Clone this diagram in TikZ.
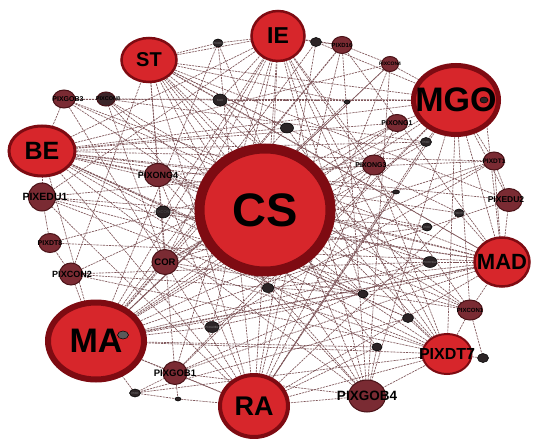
\documentclass[tikz,border=0pt]{standalone}
\usepackage{fontspec}
\setmainfont{Liberation Sans}
\usetikzlibrary{shapes.geometric}
\pgfdeclarelayer{bg}
\pgfsetlayers{bg,main}
\definecolor{nred}{HTML}{D7262B}
\definecolor{nbord}{HTML}{7E0B12}
\definecolor{nmid}{HTML}{7A2B33}
\definecolor{nmidb}{HTML}{4A1217}
\definecolor{ndark}{HTML}{2C2426}
\definecolor{edgec}{HTML}{7E5559}
\newcommand\zt[1]{\makebox[0pt]{#1}}
\newcommand\fs[1]{\fontsize{#1}{#1}\selectfont}
\begin{document}
\begin{tikzpicture}[x=1pt,y=-1pt,
  big/.style={ellipse, fill=nred, draw=nbord, inner sep=0pt, font=\bfseries},
  mid/.style={ellipse, fill=nmid, draw=nmidb, line width=1pt, inner sep=0pt, font=\bfseries\fontsize{7}{7}\selectfont},
  sml/.style={ellipse, fill=ndark, draw=black, line width=0.5pt, inner sep=0pt, font=\fontsize{3}{3}\selectfont\color{gray}},
  lnk/.style={draw=edgec, line width=0.65pt, dash pattern=on 2.2pt off 0.9pt}]
\useasboundingbox (0,0) rectangle (534,438);

% big nodes
\node[big, line width=10pt, minimum width=131pt, minimum height=123pt] (cs) at (265,210) {\zt{\fs{47}CS}};
\node[big, line width=5pt, minimum width=85pt, minimum height=69pt] (mgo) at (456,100) {\zt{\fs{34}MGO}};
\node[big, line width=6pt, minimum width=96pt, minimum height=77pt] (ma) at (96,341) {\zt{\fs{34}MA}};
\node[big, line width=2.5pt, minimum width=55pt, minimum height=44pt] (st) at (149,60) {\zt{\fs{20}ST}};
\node[big, line width=2.5pt, minimum width=53pt, minimum height=50pt] (ie) at (278,36) {\zt{\fs{23}IE}};
\node[big, line width=3pt, minimum width=66pt, minimum height=50pt] (be) at (42,151) {\zt{\fs{25}BE}};
\node[big, line width=2.5pt, minimum width=55pt, minimum height=49pt] (mad) at (502,262) {\zt{\fs{22}MAD}};
\node[big, line width=4pt, minimum width=68pt, minimum height=62pt] (ra) at (254,406) {\zt{\fs{27}RA}};
\node[big, line width=2pt, minimum width=49pt, minimum height=40pt] (dt7) at (447,354) {\zt{\fs{16}PIXDT7}};

% medium nodes
\node[mid, minimum width=27pt, minimum height=28pt] (edu1) at (42,197) {\zt{\fs{10.5}\hspace{6pt}PIXEDU1}};
\node[mid, minimum width=27pt, minimum height=23pt] (ong4) at (158,175) {\zt{\fs{9}PIXONG4}};
\node[mid, minimum width=22pt, minimum height=19pt] (d8) at (50,243) {\zt{\fs{7}PIXDT8}};
\node[mid, minimum width=23pt, minimum height=22pt] (con2) at (71,274) {\zt{\fs{9}\hspace{2pt}PIXCON2}};
\node[mid, minimum width=26pt, minimum height=25pt] (cor) at (165,262) {\zt{\fs{9.5}COR}};
\node[mid, minimum width=23pt, minimum height=20pt] (ong3) at (374,165) {\zt{\fs{7}\hspace{-6pt}PIXONG3}};
\node[mid, minimum width=21pt, minimum height=17pt] (ong1) at (397,123) {\zt{\fs{7}PIXONG1}};
\node[mid, minimum width=20pt, minimum height=17pt] (d16) at (342,45) {\zt{\fs{6}PIXD16}};
\node[mid, minimum width=17pt, minimum height=15pt] (con4) at (390,64) {\zt{\fs{5}PIXCON4}};
\node[mid, minimum width=21pt, minimum height=18pt] (dt1) at (494,161) {\zt{\fs{6.5}PIXDT1}};
\node[mid, minimum width=26pt, minimum height=23pt] (edu2) at (509,200) {\zt{\fs{8.5}\hspace{-6pt}PIXEDU2}};
\node[mid, minimum width=25pt, minimum height=20pt] (con1) at (470,310) {\zt{\fs{6}PIXCON1}};
\node[mid, minimum width=37pt, minimum height=32pt] (gob4) at (367,396) {\zt{\fs{13.5}PIXGOB4}};
\node[mid, minimum width=24pt, minimum height=23pt] (gob1) at (175,373) {\zt{\fs{9.5}PIXGOB1}};
\node[mid, minimum width=22pt, minimum height=18pt] (gob3) at (64,99) {\zt{\fs{7}\hspace{8pt}PIXGOB3}};
\node[mid, fill=ndark!80!nmid, minimum width=18pt, minimum height=14pt] (con8) at (106,99) {\zt{\fs{5.5}\hspace{4pt}PIXCON8}};

% small nodes
\node[sml, minimum width=10pt, minimum height=8pt] (s1) at (218,43) {\zt{PIXON}};
\node[sml, minimum width=14pt, minimum height=12pt] (s2) at (220,100) {\zt{KAX}};
\node[sml, minimum width=11pt, minimum height=9pt] (s3) at (316,42) {};
\node[sml, minimum width=6pt, minimum height=4pt] (s4) at (347,102) {};
\node[sml, minimum width=13pt, minimum height=10pt] (s5) at (287,128) {};
\node[sml, minimum width=11pt, minimum height=9pt] (s6) at (426,142) {\zt{PIXD}};
\node[sml, minimum width=14pt, minimum height=12pt] (s7) at (163,212) {\zt{\fs{4}\color{black!70}PIXCON5}};
\node[sml, minimum width=7pt, minimum height=4pt] (s8) at (396,192) {};
\node[sml, minimum width=10pt, minimum height=8pt] (s9) at (459,213) {\zt{PIXDT9}};
\node[sml, minimum width=10pt, minimum height=8pt] (s10) at (427,227) {\zt{PIXD}};
\node[sml, minimum width=14pt, minimum height=11pt] (s11) at (430,262) {\zt{PIXONG2}};
\node[sml, minimum width=10pt, minimum height=8pt] (s12) at (363,294) {};
\node[sml, minimum width=11pt, minimum height=9pt] (s13) at (408,318) {};
\node[sml, minimum width=10pt, minimum height=8pt] (s14) at (377,347) {};
\node[sml, minimum width=11pt, minimum height=9pt] (s15) at (483,358) {};
\node[sml, minimum width=12pt, minimum height=9pt] (s16) at (268,288) {};
\node[sml, minimum width=14pt, minimum height=11pt] (s17) at (212,327) {\zt{PIXGOB2}};
\node[sml, fill=gray!70!black, minimum width=11pt, minimum height=8pt] (s18) at (123,335) {};
\node[sml, minimum width=11pt, minimum height=8pt] (s19) at (135,393) {\zt{PIXD}};
\node[sml, minimum width=6pt, minimum height=4pt] (s20) at (178,399) {};
\node[sml, minimum width=8pt, minimum height=6pt] (s21) at (484,100) {};

\begin{pgfonlayer}{bg}
\fill[white] (0,0) rectangle (534,438);
\foreach \a/\b in {st/ie, st/mgo, st/ra, st/mad, st/cor, st/con2, st/dt7, st/s5, st/s12, st/gob4, st/edu2, st/s2,
  ie/be, ie/ma, ie/ra, ie/cor, ie/s2, ie/s3, ie/d16, ie/ong3, ie/con1, ie/gob1, ie/s17, ie/s12, ie/edu1, ie/dt7,
  mgo/be, mgo/ma, mgo/ra, mgo/mad, mgo/dt7, mgo/ong1, mgo/s6, mgo/con1, mgo/edu2, mgo/dt1, mgo/gob1, mgo/s16, mgo/s2, mgo/cor, mgo/con8,
  be/ma, be/ra, be/mad, be/dt7, be/ong4, be/edu1, be/s5, be/ong1, be/s10, be/gob4, be/con4,
  mad/ma, mad/ra, mad/edu2, mad/dt1, mad/con1, mad/s11, mad/s9, mad/ong4, mad/gob1, mad/edu1,
  ma/ra, ma/dt7, ma/gob1, ma/s17, ma/ong3, ma/ong1, ma/s5, ma/con4, ma/s12, ma/edu2, ma/dt1, ma/con2, ma/cor, ma/s19,
  ra/dt7, ra/gob4, ra/gob1, ra/ong4, ra/d16, ra/con4, ra/s20, ra/s14, ra/edu1, ra/s1, ra/ong1, ra/s9,
  dt7/con1, dt7/s15, dt7/gob4, dt7/con2, dt7/s13, dt7/ong3, dt7/edu1, dt7/cor,
  gob3/con8, gob3/be, gob3/ra, gob3/s2, gob3/mad, con8/s6, con8/cor, con8/gob4,
  edu1/d8, d8/con2, edu1/s10, con2/s12, ong4/s11, ong4/dt1, cor/con1, cor/s10,
  s1/ie, s1/ma, s1/st, s3/d16, s3/mgo, d16/con4, con4/mgo, d16/ma, con4/ma, d16/cor,
  s6/ma, s6/be, ong1/cor, ong3/edu1, dt1/edu2, s9/be, s11/ma, s14/ma, s13/be,
  s19/s20, s19/gob1, s20/gob1, gob1/gob4, gob4/s14, gob4/mgo,
  s7/mad, s7/ie, s16/st, s16/mad, s17/dt1, s18/mad, s4/st, s4/ma, s8/be, s8/ra, s15/con1, s21/mad,
  st/gob1, st/s14, st/con1, st/s9, ie/s16, ie/gob4, ie/s13, be/s13, be/s12, be/dt1, be/edu2, be/s14,
  gob3/s11, gob3/dt7, con8/con1, con8/s12, ong4/gob4, ong4/con1, con2/ong1, con2/s11, d8/mad, d8/s6,
  cor/dt1, cor/ong3, edu1/con1, gob1/ong3, gob1/s11, s19/dt7, s19/s13, s17/mad, ra/s3, ra/s6, gob4/d16, gob4/con4,
  dt7/s2, dt7/s5, mad/s2, mad/d16, s3/ma, s1/gob4}
  \draw[lnk] (\a.center) -- (\b.center);
\end{pgfonlayer}
\end{tikzpicture}
\end{document}
